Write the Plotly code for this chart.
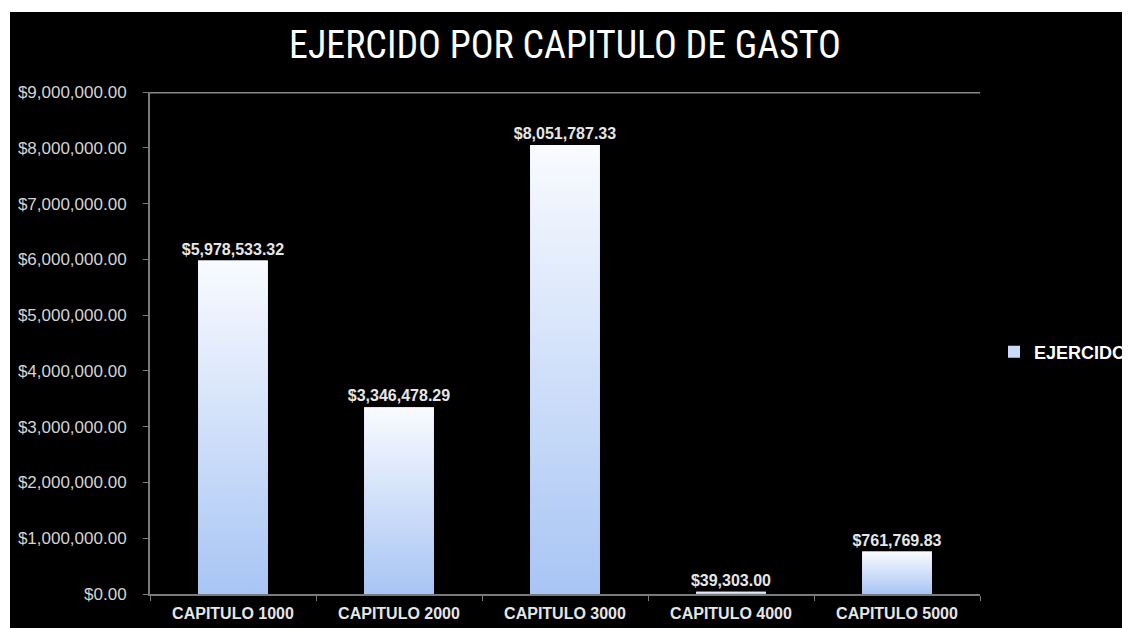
import plotly.graph_objects as go

categories = ["CAPITULO 1000", "CAPITULO 2000", "CAPITULO 3000", "CAPITULO 4000", "CAPITULO 5000"]
ejercido = [5978533.32, 3346478.29, 8051787.33, 39303.00, 761769.83]
series_name = "EJERCIDO"
title_text = "EJERCIDO POR CAPITULO DE GASTO"

OFF = 8  # page body margin
W, H = 1130 - OFF, 628
ml, mt = 150 - OFF, 92 - OFF
mr = W - (980 - OFF)
mb = H - (594 - OFF)
pw, ph = W - ml - mr, H - mt - mb
bar_w = 0.42
idx = list(range(len(categories)))

fig = go.Figure()
fig.add_trace(go.Bar(
    x=idx, y=ejercido, width=bar_w, name=series_name,
    marker=dict(color="#c9dbf8", line=dict(width=0)),
    text=["${:,.2f}".format(v) for v in ejercido],
    textposition="outside", cliponaxis=False, constraintext="none",
    textfont=dict(family="Liberation Sans", size=16, color="#e6e6e6", weight="bold"),
    hoverinfo="skip",
))
for i, v in zip(idx, ejercido):
    fig.add_trace(go.Scatter(
        x=[i - bar_w / 2, i + bar_w / 2, i + bar_w / 2, i - bar_w / 2, i - bar_w / 2],
        y=[0, 0, v, v, 0],
        mode="lines", fill="toself", line=dict(width=0, color="rgba(0,0,0,0)"),
        fillgradient=dict(type="vertical", colorscale=[[0, "#a8c5f4"], [1, "#f9fbff"]]),
        showlegend=False, hoverinfo="skip",
    ))

fig.update_layout(
    width=W, height=H,
    margin=dict(l=ml, r=mr, t=mt, b=mb, pad=0, autoexpand=False),
    paper_bgcolor="white",
    plot_bgcolor="#0c0c0c",
    title=dict(text=title_text, x=(565 - OFF) / W, xanchor="center", xref="container",
               y=1 - (45 - OFF) / H, yanchor="middle",
               font=dict(family="Roboto Condensed, DejaVu Sans Condensed, Liberation Sans Narrow",
                         size=38, color="white")),
    showlegend=True,
    legend=dict(x=(994 - OFF - ml) / pw, y=(H - mb - (352 - OFF)) / ph, xanchor="left", yanchor="middle",
                bgcolor="rgba(0,0,0,0)", borderwidth=0,
                font=dict(family="Liberation Sans", size=18, color="white", weight="bold")),
    shapes=[
        dict(type="rect", xref="paper", yref="paper", layer="below",
             x0=(10 - OFF - ml) / pw, x1=(W - ml) / pw + 0.02,
             y0=-mb / ph - 0.02, y1=(H - mb - (12 - OFF)) / ph,
             fillcolor="black", line=dict(width=0)),
        dict(type="line", xref="paper", yref="y", x0=0, x1=1, y0=9000000, y1=9000000,
             line=dict(color="#8a8a8a", width=3)),
    ],
)
fig.update_xaxes(
    range=[-0.5, len(categories) - 0.5],
    tickmode="array", tickvals=idx, ticktext=categories, ticks="",
    tickfont=dict(family="Liberation Sans", size=16, color="#e6e6e6", weight="bold"),
    ticklabelstandoff=4,
    showgrid=False, zeroline=False,
    showline=True, linecolor="#7a7a7a", linewidth=2,
    minor=dict(tickmode="array", tickvals=[k - 0.5 for k in range(len(categories) + 1)],
               ticks="outside", ticklen=5, tickcolor="#7a7a7a", tickwidth=1, showgrid=False),
)
fig.update_yaxes(
    range=[0, 9000000], dtick=1000000, tickformat="$,.2f",
    tickfont=dict(family="Liberation Sans", size=17, color="#d4d4d4"),
    ticks="outside", ticklen=5, tickcolor="#7a7a7a", tickwidth=1,
    ticklabelstandoff=13,
    showgrid=False, zeroline=False,
    showline=True, linecolor="#7a7a7a", linewidth=2,
)

fig.write_html("out.html")
